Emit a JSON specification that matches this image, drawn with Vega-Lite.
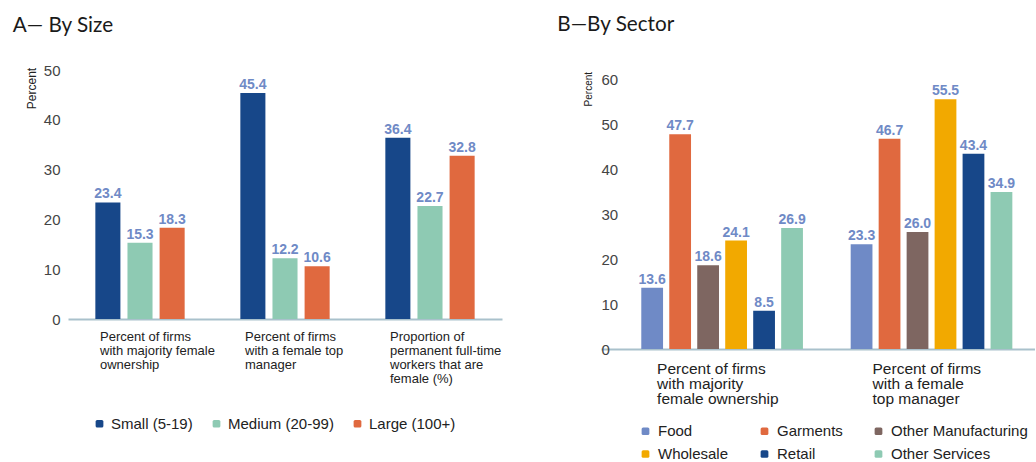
{
  "$schema": "https://vega.github.io/schema/vega-lite/v6.json",
  "padding": {"left": 12, "top": 14, "right": 0, "bottom": 0},
  "background": "white",
  "config": {"view": {"stroke": null}, "font": "Liberation Sans"},
  "datasets": {
    "size": [
      {"group": "Percent of firms|with majority female|ownership", "size": "Small (5-19)", "value": 23.4},
      {"group": "Percent of firms|with majority female|ownership", "size": "Medium (20-99)", "value": 15.3},
      {"group": "Percent of firms|with majority female|ownership", "size": "Large (100+)", "value": 18.3},
      {"group": "Percent of firms|with a female top|manager", "size": "Small (5-19)", "value": 45.4},
      {"group": "Percent of firms|with a female top|manager", "size": "Medium (20-99)", "value": 12.2},
      {"group": "Percent of firms|with a female top|manager", "size": "Large (100+)", "value": 10.6},
      {"group": "Proportion of|permanent full-time|workers that are|female (%)", "size": "Small (5-19)", "value": 36.4},
      {"group": "Proportion of|permanent full-time|workers that are|female (%)", "size": "Medium (20-99)", "value": 22.7},
      {"group": "Proportion of|permanent full-time|workers that are|female (%)", "size": "Large (100+)", "value": 32.8}
    ],
    "sector": [
      {"group": "Percent of firms|with majority|female ownership", "sector": "Food", "value": 13.6},
      {"group": "Percent of firms|with majority|female ownership", "sector": "Garments", "value": 47.7},
      {"group": "Percent of firms|with majority|female ownership", "sector": "Other Manufacturing", "value": 18.6},
      {"group": "Percent of firms|with majority|female ownership", "sector": "Wholesale", "value": 24.1},
      {"group": "Percent of firms|with majority|female ownership", "sector": "Retail", "value": 8.5},
      {"group": "Percent of firms|with majority|female ownership", "sector": "Other Services", "value": 26.9},
      {"group": "Percent of firms|with a female|top manager", "sector": "Food", "value": 23.3},
      {"group": "Percent of firms|with a female|top manager", "sector": "Garments", "value": 46.7},
      {"group": "Percent of firms|with a female|top manager", "sector": "Other Manufacturing", "value": 26.0},
      {"group": "Percent of firms|with a female|top manager", "sector": "Wholesale", "value": 55.5},
      {"group": "Percent of firms|with a female|top manager", "sector": "Retail", "value": 43.4},
      {"group": "Percent of firms|with a female|top manager", "sector": "Other Services", "value": 34.9}
    ]
  },
  "spacing": 55,
  "hconcat": [
    {
      "data": {"name": "size"},
      "title": {"text": "A\u2014 By Size", "anchor": "start", "frame": "group", "dx": -55.3, "offset": 10, "baseline": "alphabetic", "font": "Lato", "fontSize": 20.7, "fontWeight": "normal", "color": "#1a1a1a"},
      "width": 434,
      "height": 249,
      "encoding": {
        "x": {
          "field": "group", "type": "nominal", "sort": null,
          "scale": {"paddingInner": 0.384, "paddingOuter": 0.1886},
          "axis": {
            "title": null, "labelExpr": "split(datum.label, '|')", "labelAlign": "left", "labelOffset": -40,
            "labelBaseline": "top", "labelPadding": 11, "labelFontSize": 13, "labelColor": "#222222",
            "labelLineHeight": 14.3, "ticks": false, "tickSize": 0, "domainColor": "#a9c1cc", "domainWidth": 2,
            "labelAngle": 0, "labelOverlap": false, "labelLimit": 300, "labelFont": "Liberation Sans"
          }
        },
        "xOffset": {
          "field": "size", "type": "nominal", "sort": ["Small (5-19)", "Medium (20-99)", "Large (100+)"],
          "scale": {"paddingInner": 0.22, "paddingOuter": 0}
        },
        "y": {
          "field": "value", "type": "quantitative", "scale": {"domain": [0, 50], "nice": false},
          "axis": {
            "title": "Percent", "titleAngle": -90, "titleX": -36.5, "titleY": 18, "titleAlign": "center", "titleBaseline": "middle",
            "titleFontSize": 12, "titleFontWeight": "normal", "titleColor": "#222222", "titleFont": "Liberation Sans",
            "grid": false, "domain": false, "ticks": false, "tickSize": 0, "labelPadding": 8,
            "labelFont": "Liberation Sans", "labelFontSize": 15, "labelColor": "#444444", "values": [0, 10, 20, 30, 40, 50]
          }
        }
      },
      "layer": [
        {
          "mark": {"type": "bar"},
          "encoding": {
            "color": {
              "field": "size", "type": "nominal",
              "scale": {"domain": ["Small (5-19)", "Medium (20-99)", "Large (100+)"], "range": ["#174789", "#8ecab3", "#e0693f"]},
              "legend": {
                "title": null, "orient": "none", "direction": "horizontal", "legendX": 24, "legendY": 346,
                "labelFont": "Liberation Sans", "labelFontSize": 15, "labelColor": "#222222", "labelOffset": 4,
                "columnPadding": 16, "symbolSize": 60, "symbolStrokeWidth": 0,
                "symbolType": "M-1,-0.6Q-1,-1,-0.6,-1L0.6,-1Q1,-1,1,-0.6L1,0.6Q1,1,0.6,1L-0.6,1Q-1,1,-1,0.6Z"
              }
            }
          }
        },
        {
          "mark": {"type": "text", "font": "Liberation Sans", "fontWeight": "bold", "fontSize": 14, "color": "#6f8ac6", "baseline": "alphabetic", "dy": -4},
          "encoding": {"text": {"field": "value", "type": "quantitative", "format": ".1f"}}
        }
      ]
    },
    {
      "data": {"name": "sector"},
      "title": {"text": "B\u2014By Sector", "anchor": "start", "frame": "group", "dx": -43.7, "offset": 18, "baseline": "alphabetic", "font": "Lato", "fontSize": 20.7, "fontWeight": "normal", "color": "#1a1a1a"},
      "width": 434,
      "height": 279,
      "encoding": {
        "x": {
          "field": "group", "type": "nominal", "sort": null,
          "scale": {"paddingInner": 0.228, "paddingOuter": 0.1503, "align": 0.64},
          "axis": {
            "title": null, "labelExpr": "split(datum.label, '|')", "labelAlign": "left",
            "labelOffset": {"condition": {"test": "indexof(datum.label, 'ownership') >= 0", "value": -65}, "value": -59},
            "labelBaseline": "top", "labelPadding": 12, "labelFontSize": 15.5, "labelColor": "#222222",
            "labelLineHeight": 15, "ticks": false, "tickSize": 0, "domainColor": "#a9c1cc", "domainWidth": 2,
            "labelAngle": 0, "labelOverlap": false, "labelLimit": 300, "labelFont": "Liberation Sans"
          }
        },
        "xOffset": {
          "field": "sector", "type": "nominal", "sort": ["Food", "Garments", "Other Manufacturing", "Wholesale", "Retail", "Other Services"],
          "scale": {"paddingInner": 0.222, "paddingOuter": 0}
        },
        "y": {
          "field": "value", "type": "quantitative", "scale": {"domain": [0, 62], "nice": false},
          "axis": {
            "title": "Percent", "titleAngle": -90, "titleX": -13, "titleY": 18.7, "titleAlign": "center", "titleBaseline": "middle",
            "titleFontSize": 10, "titleFontWeight": "normal", "titleColor": "#222222", "titleFont": "Liberation Sans",
            "grid": false, "domain": false, "ticks": false, "tickSize": 0, "labelPadding": 0, "labelAlign": "left",
            "labelFont": "Liberation Sans", "labelFontSize": 15, "labelColor": "#444444", "values": [0, 10, 20, 30, 40, 50, 60]
          }
        }
      },
      "layer": [
        {
          "mark": {"type": "bar"},
          "encoding": {
            "color": {
              "field": "sector", "type": "nominal",
              "scale": {"domain": ["Food", "Garments", "Other Manufacturing", "Wholesale", "Retail", "Other Services"], "range": ["#6f8ac6", "#e0693f", "#7e6661", "#f2a900", "#174789", "#8ecab3"]},
              "legend": {
                "title": null, "orient": "none", "direction": "horizontal", "columns": 3, "legendX": 37, "legendY": 353.5,
                "labelFont": "Liberation Sans", "labelFontSize": 15, "labelColor": "#222222", "labelOffset": 5,
                "columnPadding": 28, "rowPadding": 7, "symbolSize": 60, "symbolStrokeWidth": 0,
                "symbolType": "M-1,-0.6Q-1,-1,-0.6,-1L0.6,-1Q1,-1,1,-0.6L1,0.6Q1,1,0.6,1L-0.6,1Q-1,1,-1,0.6Z"
              }
            }
          }
        },
        {
          "mark": {"type": "text", "font": "Liberation Sans", "fontWeight": "bold", "fontSize": 14, "color": "#6f8ac6", "baseline": "alphabetic", "dy": -4},
          "encoding": {"text": {"field": "value", "type": "quantitative", "format": ".1f"}}
        }
      ]
    }
  ],
  "resolve": {"scale": {"color": "independent", "x": "independent", "y": "independent", "xOffset": "independent"}, "legend": {"color": "independent"}}
}
